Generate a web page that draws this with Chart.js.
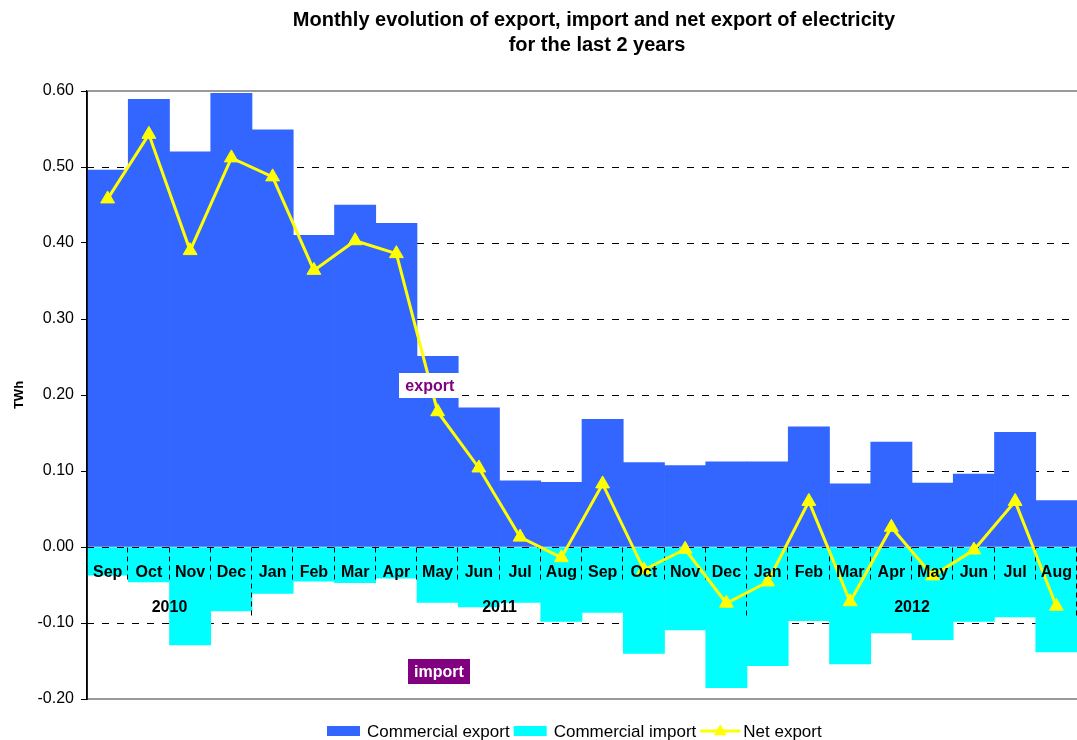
<!DOCTYPE html>
<html>
<head>
<meta charset="utf-8">
<script src="https://cdn.jsdelivr.net/npm/chart.js@4/dist/chart.umd.min.js"></script>
<style>
html,body{margin:0;padding:0;background:#fff;}
#wrap{width:1077px;height:740px;position:relative;}
</style>
</head>
<body>
<div id="wrap"><canvas id="c" width="1077" height="740"></canvas></div>
<script>
// ---- data ----
const months = ['Sep','Oct','Nov','Dec','Jan','Feb','Mar','Apr','May','Jun','Jul','Aug',
                'Sep','Oct','Nov','Dec','Jan','Feb','Mar','Apr','May','Jun','Jul','Aug'];
const years = ['2010','2011','2012'];
const yearFirstMonth = [0, 4, 16];
const yearLastMonth = [3, 15, 23];
const exportValues = [0.496,0.589,0.520,0.597,0.549,0.410,0.450,0.426,0.251,0.183,0.087,0.085,
                      0.168,0.111,0.107,0.112,0.112,0.158,0.083,0.138,0.084,0.096,0.151,0.061];
const importValues = [-0.037,-0.046,-0.129,-0.084,-0.061,-0.045,-0.047,-0.041,-0.073,-0.079,-0.073,-0.098,
                      -0.086,-0.140,-0.109,-0.185,-0.156,-0.097,-0.154,-0.113,-0.122,-0.098,-0.092,-0.138];
const netExportValues = [0.458,0.543,0.390,0.512,0.487,0.364,0.403,0.386,0.178,0.104,0.013,-0.014,
                         0.083,-0.030,-0.003,-0.074,-0.046,0.060,-0.072,0.026,-0.038,-0.004,0.060,-0.078];
const seriesNames = ['Commercial export','Commercial import','Net export'];
const titleLines = ['Monthly evolution of export, import and net export of electricity','for the last 2 years'];
const yAxisTitle = 'TWh';
const noteExport = 'export';
const noteImport = 'import';
const yMin = -0.2, yMax = 0.6, yStep = 0.1;

// ---- styles ----
const BLUE = '#3366FF', CYAN = '#00FFFF', YELLOW = '#FFFF00', PURPLE = '#800080';
const FONT = '"Liberation Sans", Arial, Helvetica, sans-serif';

const chartDecor = {
  id: 'chartDecor',
  beforeDatasetsDraw(chart) {
    const {ctx, chartArea: a, scales: {y}} = chart;
    ctx.save();
    ctx.strokeStyle = '#000';
    ctx.lineWidth = 1;
    ctx.setLineDash([7, 8]);
    y.ticks.forEach(t => {
      const v = t.value;
      if (Math.abs(v) < 1e-9 || v > yMax - 1e-9 || v < yMin + 1e-9) return;
      const py = Math.round(y.getPixelForValue(v)) + 0.5;
      ctx.beginPath(); ctx.moveTo(a.left, py); ctx.lineTo(a.right, py); ctx.stroke();
    });
    ctx.restore();
  },
  beforeDatasetDraw(chart, args) {
    if (args.meta.type !== 'line') return;
    const {ctx, chartArea: a, scales: {y}} = chart;
    const y0 = Math.round(y.getPixelForValue(0)) + 0.5;
    ctx.save();
    ctx.strokeStyle = '#000';
    ctx.lineWidth = 1;
    ctx.setLineDash([7, 8]);
    ctx.beginPath(); ctx.moveTo(a.left, y0); ctx.lineTo(a.right, y0); ctx.stroke();
    const w = (a.right - a.left) / months.length;
    ctx.setLineDash([5, 4]);
    for (let i = 1; i <= months.length; i++) {
      const px = Math.round(a.left + i * w) - 0.5;
      const isYearEdge = yearLastMonth.includes(i - 1);
      const len = isYearEdge ? 69 : 36;
      ctx.beginPath(); ctx.moveTo(px, y0); ctx.lineTo(px, y0 + len); ctx.stroke();
    }
    ctx.restore();
  },
  afterDatasetsDraw(chart) {
    const {ctx, chartArea: a, scales: {x, y}} = chart;
    ctx.save();
    ctx.strokeStyle = '#9a9a9a';
    ctx.lineWidth = 2;
    ctx.beginPath(); ctx.moveTo(a.left, a.top); ctx.lineTo(a.right, a.top); ctx.stroke();
    ctx.beginPath(); ctx.moveTo(a.left, a.bottom); ctx.lineTo(a.right, a.bottom); ctx.stroke();
    ctx.strokeStyle = '#000';
    ctx.lineWidth = 1.5;
    ctx.beginPath(); ctx.moveTo(a.left, a.top); ctx.lineTo(a.left, a.bottom + 1); ctx.stroke();

    const y0 = y.getPixelForValue(0);
    ctx.fillStyle = '#000';
    ctx.font = 'bold 16px ' + FONT;
    ctx.textAlign = 'center';
    ctx.textBaseline = 'middle';
    months.forEach((m, i) => ctx.fillText(m, x.getPixelForValue(i), y0 + 26));
    years.forEach((yr, k) => {
      const cx = (x.getPixelForValue(yearFirstMonth[k]) + x.getPixelForValue(yearLastMonth[k])) / 2;
      ctx.fillText(yr, cx, y0 + 61);
    });
    ctx.font = 'bold 16px ' + FONT;
    const drawNote = (text, cx, cy, bg, fg) => {
      const tw = ctx.measureText(text).width;
      const bw = tw + 12, bh = 25;
      ctx.fillStyle = bg;
      ctx.fillRect(Math.round(cx - bw / 2), Math.round(cy - bh / 2), Math.round(bw), bh);
      ctx.fillStyle = fg;
      ctx.fillText(text, cx, cy + 1);
    };
    drawNote(noteExport, x.getPixelForValue(7.81), y.getPixelForValue(0.212), '#fff', PURPLE);
    drawNote(noteImport, x.getPixelForValue(8.03), y.getPixelForValue(-0.164), PURPLE, '#fff');
    ctx.restore();
  },
  afterDraw(chart) {
    const {ctx} = chart;
    ctx.save();
    ctx.fillStyle = '#000';
    ctx.textAlign = 'center';
    ctx.textBaseline = 'middle';
    ctx.font = 'bold 20px ' + FONT;
    ctx.fillText(titleLines[0], 594, 20);
    ctx.fillText(titleLines[1], 597, 45);
    // legend
    ctx.font = '17px ' + FONT;
    ctx.textAlign = 'left';
    const ly = 731;
    let lx = 327;
    const colors = [BLUE, CYAN];
    chart.data.datasets.forEach((ds, i) => {
      if (i < 2) {
        ctx.fillStyle = colors[i];
        ctx.fillRect(lx, ly - 5, 33, 10);
        lx += 40;
      } else {
        ctx.strokeStyle = YELLOW;
        ctx.lineWidth = 3;
        ctx.beginPath(); ctx.moveTo(lx, ly); ctx.lineTo(lx + 40, ly); ctx.stroke();
        ctx.fillStyle = YELLOW;
        const tx = lx + 20, r = 7;
        ctx.beginPath();
        ctx.moveTo(tx, ly - r);
        ctx.lineTo(tx + r * 0.9, ly + r * 0.6);
        ctx.lineTo(tx - r * 0.9, ly + r * 0.6);
        ctx.closePath(); ctx.fill();
        lx += 43;
      }
      ctx.fillStyle = '#000';
      ctx.fillText(ds.label, lx, ly + 1);
      lx += ctx.measureText(ds.label).width + 4;
    });
    ctx.restore();
  }
};

new Chart(document.getElementById('c'), {
  type: 'bar',
  data: {
    labels: months,
    datasets: [
      { type: 'bar', label: seriesNames[0], data: exportValues, backgroundColor: BLUE,
        borderWidth: 0, grouped: false, barPercentage: 1, categoryPercentage: 1, order: 2 },
      { type: 'bar', label: seriesNames[1], data: importValues, backgroundColor: CYAN,
        borderWidth: 0, grouped: false, barPercentage: 1, categoryPercentage: 1, order: 1 },
      { type: 'line', label: seriesNames[2], data: netExportValues, borderColor: YELLOW,
        backgroundColor: YELLOW, borderWidth: 3, tension: 0, pointStyle: 'triangle',
        pointRadius: 8, pointBackgroundColor: YELLOW, pointBorderColor: YELLOW,
        pointBorderWidth: 1, fill: false, order: 0 }
    ]
  },
  options: {
    responsive: false,
    animation: false,
    devicePixelRatio: 1,
    layout: { autoPadding: false, padding: { top: 91, bottom: 41, left: 0, right: 0 } },
    plugins: {
      legend: { display: false },
      title: { display: false },
      tooltip: { enabled: false }
    },
    scales: {
      x: { display: false, offset: true },
      y: {
        min: yMin, max: yMax,
        ticks: {
          stepSize: yStep,
          color: '#000',
          font: { family: FONT, size: 16 },
          padding: 7,
          callback: v => (Math.abs(v) < 1e-9 ? 0 : v).toFixed(2)
        },
        grid: { drawOnChartArea: false, drawTicks: true, tickLength: 6, tickColor: '#000', color: '#000' },
        border: { display: true, color: '#000', width: 1.5 },
        title: { display: true, text: yAxisTitle, color: '#000',
                 font: { family: FONT, size: 13, weight: 'bold' }, padding: { top: 12, bottom: 0 } },
        afterFit(scale) { scale.width = 87; }
      }
    }
  },
  plugins: [chartDecor]
});
</script>
</body>
</html>
